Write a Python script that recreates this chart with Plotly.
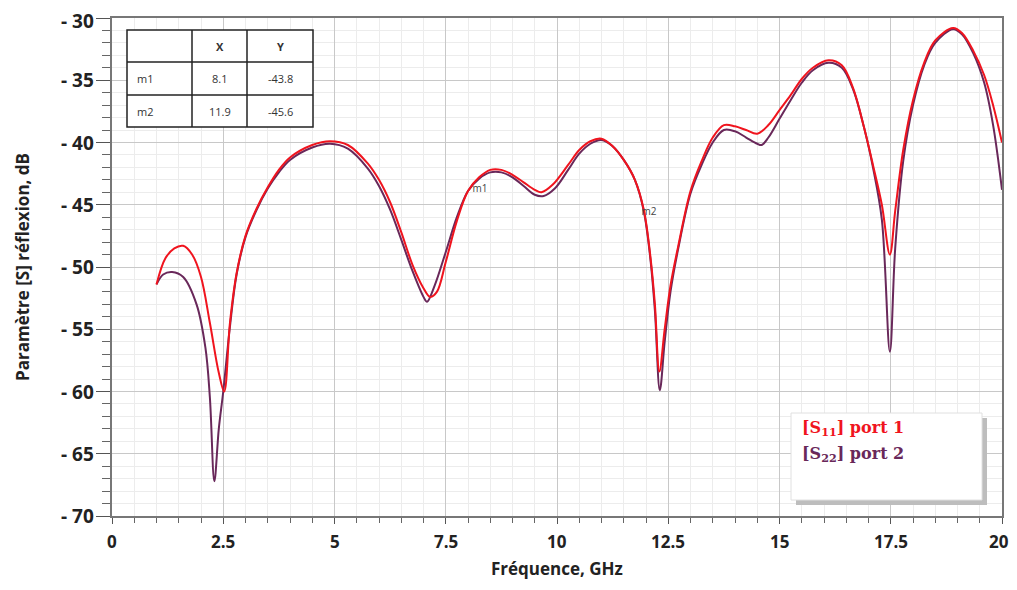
import plotly.graph_objs as go

# S11 (port 1)
f_s11 = [1.0, 1.2, 1.4, 1.6, 1.8, 2.0, 2.2, 2.4, 2.52, 2.65, 2.8, 3.0, 3.25, 3.5, 3.75, 4.0, 4.5, 4.9,
         5.3, 5.75, 6.0, 6.25, 6.5, 6.75, 7.0, 7.15, 7.3, 7.5, 7.75, 8.0, 8.25, 8.5, 8.75, 9.0, 9.25,
         9.5, 9.65, 9.9, 10.25, 10.5, 10.75, 11.0, 11.25, 11.5, 11.75, 11.95, 12.1, 12.2, 12.3, 12.42,
         12.55, 12.72, 13.0, 13.25, 13.5, 13.75, 14.0, 14.25, 14.5, 14.75, 15.0, 15.25, 15.5, 15.75,
         16.1, 16.4, 16.65, 16.9, 17.1, 17.3, 17.48, 17.6, 17.78, 18.0, 18.25, 18.5, 18.9, 19.1, 19.35,
         19.6, 19.8, 20.0]
s11 = [-51.4, -49.3, -48.5, -48.3, -49.0, -50.8, -54.5, -58.5, -60.0, -54.5, -50.5, -47.5, -45.3,
       -43.6, -42.2, -41.2, -40.2, -39.9, -40.2, -41.7, -43.0, -44.8, -47.2, -49.8, -51.7, -52.4,
       -52.0, -49.6, -46.3, -43.9, -42.8, -42.2, -42.2, -42.6, -43.2, -43.8, -44.0, -43.4, -41.8,
       -40.6, -39.9, -39.7, -40.3, -41.4, -43.0, -45.4, -49.2, -53.0, -58.4, -55.0, -51.5, -48.4,
       -43.9, -41.5, -39.6, -38.6, -38.7, -39.0, -39.3, -38.6, -37.4, -36.2, -34.9, -34.0, -33.4,
       -33.8, -35.6, -38.8, -41.8, -45.0, -49.0, -45.5, -40.6, -36.6, -33.6, -31.8, -30.8, -31.2,
       -32.6, -34.6, -37.0, -40.0]

# S22 (port 2)
f_s22 = [1.0, 1.15, 1.35, 1.6, 1.9, 2.1, 2.2, 2.3, 2.4, 2.5, 2.65, 2.8, 3.0, 3.25, 3.5, 3.75, 4.0,
         4.5, 4.9, 5.3, 5.75, 6.0, 6.25, 6.5, 6.75, 7.0, 7.08, 7.25, 7.5, 7.75, 8.0, 8.25, 8.5, 8.75,
         9.0, 9.25, 9.5, 9.7, 9.95, 10.25, 10.5, 10.75, 11.0, 11.25, 11.5, 11.75, 11.95, 12.1, 12.2,
         12.31, 12.42, 12.55, 12.72, 13.0, 13.25, 13.5, 13.75, 14.0, 14.25, 14.5, 14.6, 14.75, 15.0,
         15.25, 15.5, 15.75, 16.1, 16.4, 16.65, 16.9, 17.1, 17.3, 17.48, 17.6, 17.78, 18.0, 18.25,
         18.5, 18.9, 19.1, 19.35, 19.6, 19.8, 20.0]
s22 = [-51.4, -50.6, -50.4, -50.8, -53.0, -56.5, -60.5, -67.2, -63.0, -60.0, -54.8, -50.6, -47.6,
       -45.4, -43.7, -42.4, -41.4, -40.4, -40.1, -40.5, -42.1, -43.5, -45.4, -47.8, -50.3, -52.4,
       -52.8, -51.5, -48.8, -46.0, -43.9, -42.9, -42.4, -42.4, -42.8, -43.5, -44.2, -44.3, -43.7,
       -42.2, -40.9, -40.1, -39.8, -40.3, -41.4, -43.0, -45.5, -49.4, -53.5, -59.9, -56.0, -52.0,
       -48.6, -44.1, -41.8, -40.0, -39.0, -39.1, -39.6, -40.1, -40.2, -39.6, -38.1, -36.6, -35.2,
       -34.2, -33.6, -34.0, -35.7, -38.8, -42.0, -46.2, -56.8, -48.5, -41.5, -37.0, -33.8, -32.0,
       -30.9, -31.3, -32.8, -35.2, -38.6, -43.8]

# marqueurs
marker_names = ['m1', 'm2']
marker_x = [8.1, 11.9]
marker_y = [-43.8, -45.6]

x_ticks = [0, 2.5, 5, 7.5, 10, 12.5, 15, 17.5, 20]
y_ticks = [-30, -35, -40, -45, -50, -55, -60, -65, -70]

red = 'rgb(240,20,30)'
purple = 'rgb(105,40,90)'

fig = go.Figure()
fig.add_trace(go.Scatter(x=f_s22, y=s22, mode='lines', line=dict(color=purple, width=2),
                         line_shape='spline', showlegend=False))
fig.add_trace(go.Scatter(x=f_s11, y=s11, mode='lines', line=dict(color=red, width=2),
                         line_shape='spline', showlegend=False))
fig.add_trace(go.Scatter(x=marker_x, y=marker_y, mode='text', text=marker_names,
                         textposition='middle right', textfont=dict(size=10, color='#444'),
                         showlegend=False))

# la page ajoute 8 px de marge autour de la figure
fig.update_layout(
    width=1001, height=574,
    margin=dict(l=104, r=7, t=10, b=66),
    plot_bgcolor='white', paper_bgcolor='white',
    font=dict(family='Open Sans', color='#222'),
    xaxis=dict(range=[0, 20], tickvals=x_ticks, automargin=False,
               showticklabels=False,
               showgrid=True, gridcolor='#c8c8c8', gridwidth=1,
               showline=True, linecolor='#777', linewidth=1.5, mirror=True,
               ticks='outside', ticklen=6, tickcolor='#555',
               minor=dict(dtick=0.5, showgrid=True, gridcolor='#ececec',
                          ticks='outside', ticklen=5, tickcolor='#666'),
               zeroline=False),
    yaxis=dict(range=[-70, -30], tickvals=y_ticks, automargin=False,
               showticklabels=False,
               showgrid=True, gridcolor='#c8c8c8', gridwidth=1,
               showline=True, linecolor='#777', linewidth=1.5, mirror=True,
               ticks='outside', ticklen=14, tickcolor='#555',
               minor=dict(dtick=1, showgrid=True, gridcolor='#ececec',
                          ticks='outside', ticklen=8, tickcolor='#666'),
               zeroline=False,
               title=dict(text='<b>Paramètre [S] réflexion, dB</b>', font=dict(size=17), standoff=62)),
)

# étiquettes des axes (annotations pour que les extrêmes ne soient pas masqués)
for v in y_ticks:
    fig.add_annotation(x=0, xref='paper', y=v, yref='y', text='<b>- %d</b>' % abs(v),
                       showarrow=False, xanchor='right', yanchor='middle', xshift=-16,
                       yshift=-3 if v == y_ticks[0] else 0,
                       font=dict(size=19, color='#222'))
for v in x_ticks:
    fig.add_annotation(x=v, xref='x', y=0, yref='paper', text='<b>%g</b>' % v,
                       showarrow=False, xanchor='center', yanchor='top', yshift=-12,
                       xshift=-3 if v == x_ticks[-1] else 0,
                       font=dict(size=17, color='#222'))
fig.add_annotation(x=0.5, xref='paper', y=0, yref='paper', text='<b>Fréquence, GHz</b>',
                   showarrow=False, xanchor='center', yanchor='top', yshift=-39,
                   font=dict(size=17, color='#222'))

# tableau des marqueurs (en haut à gauche) ; coordonnées en pixels de l'écran
def px(x):
    return (x - 112) / 890

def py(y):
    return (516 - y) / 498

tx = [127, 192, 247, 313]
ty = [30, 62, 95, 127]
fig.add_shape(type='rect', xref='paper', yref='paper', x0=px(tx[0]), x1=px(tx[3]),
              y0=py(ty[3]), y1=py(ty[0]), fillcolor='white', line=dict(color='#222', width=1.5))
for xv in tx[1:3]:
    fig.add_shape(type='line', xref='paper', yref='paper', x0=px(xv), x1=px(xv),
                  y0=py(ty[3]), y1=py(ty[0]), line=dict(color='#222', width=1.5))
for yv in ty[1:3]:
    fig.add_shape(type='line', xref='paper', yref='paper', x0=px(tx[0]), x1=px(tx[3]),
                  y0=py(yv), y1=py(yv), line=dict(color='#222', width=1.5))

cells = [['', '<b>X</b>', '<b>Y</b>']]
for n, xv, yv in zip(marker_names, marker_x, marker_y):
    cells.append([n, '%.1f' % xv, '%.1f' % yv])
for r, row in enumerate(cells):
    yc = (ty[r] + ty[r + 1]) / 2
    for c, txt in enumerate(row):
        if not txt:
            continue
        if c == 0:
            xc, anchor = tx[0] + 8, 'left'
        else:
            xc, anchor = (tx[c] + tx[c + 1]) / 2, 'center'
        fig.add_annotation(x=px(xc), y=py(yc), xref='paper', yref='paper', text=txt,
                           showarrow=False, xanchor=anchor, yanchor='middle',
                           font=dict(size=11, color='#333'))

# légende (en bas à droite) avec ombre
fig.add_shape(type='rect', xref='paper', yref='paper', x0=px(796), x1=px(987),
              y0=py(505), y1=py(418), fillcolor='#bdbdbd', line=dict(width=0))
fig.add_shape(type='rect', xref='paper', yref='paper', x0=px(791), x1=px(982),
              y0=py(500), y1=py(413), fillcolor='white', line=dict(color='#e0e0e0', width=1))
fig.add_annotation(x=px(800), y=py(428), xref='paper', yref='paper', showarrow=False,
                   xanchor='left', yanchor='middle', text='<b>[S<sub>11</sub>] port 1</b>',
                   font=dict(family='DejaVu Serif', size=16, color=red))
fig.add_annotation(x=px(800), y=py(454), xref='paper', yref='paper', showarrow=False,
                   xanchor='left', yanchor='middle', text='<b>[S<sub>22</sub>] port 2</b>',
                   font=dict(family='DejaVu Serif', size=16, color=purple))

fig.write_html("out.html")
